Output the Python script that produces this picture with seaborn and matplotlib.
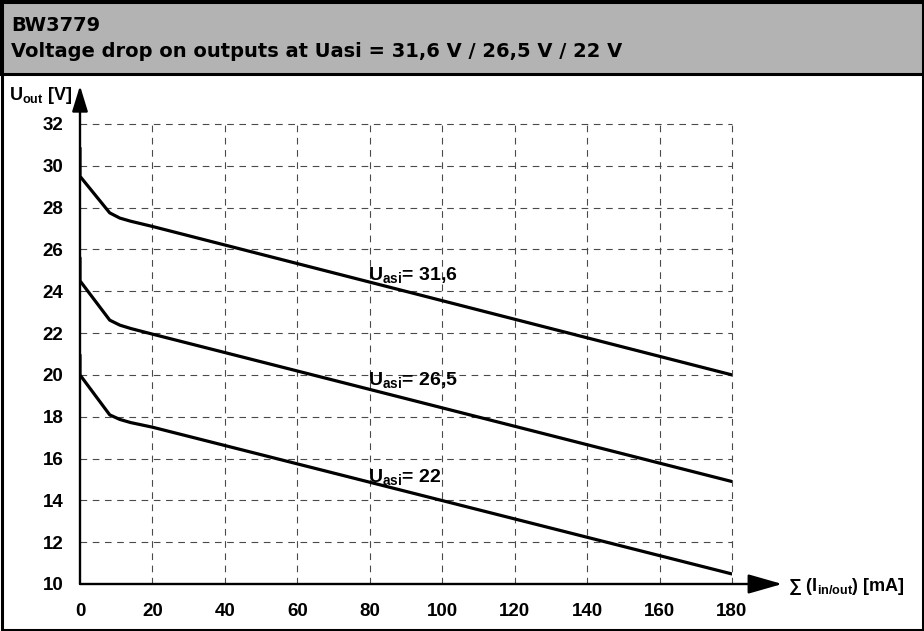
import matplotlib
matplotlib.use("Agg")
import matplotlib.pyplot as plt
import seaborn as sns
import pandas as pd
from matplotlib.patches import Rectangle

# ---- data ----
current_316 = [0, 0, 8.2, 11, 14, 20, 180]
voltage_316 = [30.85, 29.5, 27.75, 27.5, 27.35, 27.1, 20.0]
current_265 = [0, 0, 8.2, 11, 14, 20, 180]
voltage_265 = [25.6, 24.5, 22.62, 22.38, 22.22, 21.95, 14.9]
current_22 = [0, 0, 8.2, 11, 14, 20, 180]
voltage_22 = [20.95, 20.0, 18.09, 17.87, 17.72, 17.5, 10.48]
series_names = ["31,6", "26,5", "22"]
label_x = [79.5, 79.5, 79.5]
label_y = [24.55, 19.52, 14.88]
x_ticks = [0, 20, 40, 60, 80, 100, 120, 140, 160, 180]
y_ticks = [10, 12, 14, 16, 18, 20, 22, 24, 26, 28, 30, 32]
title_1 = "BW3779"
title_2 = "Voltage drop on outputs at Uasi = 31,6 V / 26,5 V / 22 V"

sns.set_theme(style="white")
plt.rcParams["font.family"] = ["Liberation Sans", "DejaVu Sans"]
plt.rcParams["mathtext.fontset"] = "custom"
plt.rcParams["mathtext.rm"] = "Liberation Sans:bold"
plt.rcParams["mathtext.bf"] = "Liberation Sans:bold"
plt.rcParams["mathtext.it"] = "Liberation Sans:bold"
plt.rcParams["text.color"] = "black"
plt.rcParams["xtick.color"] = "black"
plt.rcParams["ytick.color"] = "black"

W, H = 924, 631
fig = plt.figure(figsize=(W / 100, H / 100), dpi=100)
fig.patch.set_facecolor("white")

# header band and outer frame
fig.patches.append(Rectangle((0, 1 - 74 / H), 1, 74 / H, transform=fig.transFigure,
                             facecolor="#b3b3b3", edgecolor="black", lw=2.2, zorder=0))
fig.patches.append(Rectangle((1.5 / W, 1.5 / H), 1 - 3 / W, 1 - 3 / H, transform=fig.transFigure,
                             facecolor="none", edgecolor="black", lw=2.2, zorder=5))
fig.text(11 / W, 1 - 31 / H, title_1, fontsize=14, fontweight="bold", va="baseline",
         ha="left", family=["DejaVu Sans"], color="black")
fig.text(11 / W, 1 - 57 / H, title_2, fontsize=14, fontweight="bold", va="baseline",
         ha="left", family=["DejaVu Sans"], color="black")

ax = fig.add_axes([80 / W, (H - 584) / H, 652 / W, 460 / H])
ax.set_xlim(0, 180)
ax.set_ylim(10, 32)

frames = []
for name, xs, ys in [(series_names[0], current_316, voltage_316),
                     (series_names[1], current_265, voltage_265),
                     (series_names[2], current_22, voltage_22)]:
    frames.append(pd.DataFrame({"I": xs, "U": ys, "s": name}))
df = pd.concat(frames, ignore_index=True)

# grid
for yv in y_ticks[1:]:
    ax.plot([0, 180], [yv, yv], color="#4a4a4a", lw=0.8, ls=(0, (6, 5)), zorder=1, clip_on=False)
for xv in x_ticks[1:]:
    ax.plot([xv, xv], [10, 32], color="#4a4a4a", lw=0.8, ls=(0, (6, 5)), zorder=1, clip_on=False)

for name in series_names:
    sub = df[df["s"] == name]
    sns.lineplot(data=sub, x="I", y="U", ax=ax, sort=False, estimator=None,
                 color="black", lw=2.3, legend=False, zorder=3)

for name, lx, ly in zip(series_names, label_x, label_y):
    ax.text(lx, ly, r"U$_{\mathrm{asi}}$" + "= " + name, fontsize=14, fontweight="bold",
            ha="left", va="baseline", zorder=4, color="black")

for s in ax.spines.values():
    s.set_visible(False)

# axis arrows
ax.annotate("", xy=(0, 1.083), xytext=(0, 0), xycoords="axes fraction",
            arrowprops=dict(arrowstyle="-|>,head_length=1.3,head_width=0.4", lw=1.7,
                            color="black", shrinkA=0, shrinkB=0), annotation_clip=False)
ax.annotate("", xy=(1.077, 0), xytext=(0, 0), xycoords="axes fraction",
            arrowprops=dict(arrowstyle="-|>,head_length=1.75,head_width=0.5", lw=1.7,
                            color="black", shrinkA=0, shrinkB=0), annotation_clip=False)

ax.set_xticks(x_ticks)
ax.set_yticks(y_ticks)
ax.set_xticklabels([str(v) for v in x_ticks], fontsize=13.5, fontweight="bold", color="black")
ax.set_yticklabels([str(v) for v in y_ticks], fontsize=13.5, fontweight="bold", color="black")
ax.tick_params(axis="both", length=0)
ax.tick_params(axis="x", pad=14)
ax.tick_params(axis="y", pad=12)
ax.set_xlabel("")
ax.set_ylabel("")
ax.grid(False)

fig.text(9 / W, 1 - 100 / H, r"U$_{\mathrm{out}}$ [V]", fontsize=13, fontweight="bold",
         ha="left", va="baseline", color="black")
fig.text(788 / W, 1 - 591 / H, "∑ (I$_{\\mathrm{in/out}}$) [mA]", fontsize=13, fontweight="bold",
         ha="left", va="baseline", color="black")

fig.savefig("out.png", dpi=100, facecolor="white")
